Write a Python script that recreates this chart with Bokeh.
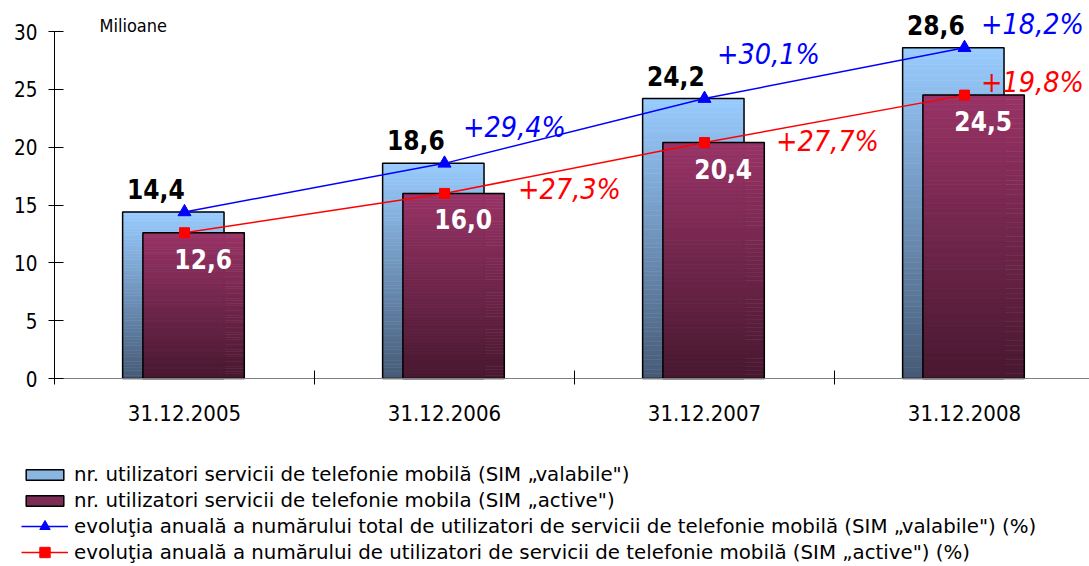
import numpy as np
from bokeh.plotting import figure
from bokeh.models import FixedTicker, Legend, LegendItem, Label, ColumnDataSource
from bokeh.core.properties import value
from bokeh.embed import file_html
from bokeh.resources import INLINE

# ---------------- data ----------------
categories = ["31.12.2005", "31.12.2006", "31.12.2007", "31.12.2008"]
sim_valabile = [14.4, 18.6, 24.2, 28.6]
sim_active = [12.6, 16.0, 20.4, 24.5]
growth_valabile = ["", "+29,4%", "+30,1%", "+18,2%"]
growth_active = ["", "+27,3%", "+27,7%", "+19,8%"]
y_ticks = [0, 5, 10, 15, 20, 25, 30]
unit_label = "Milioane"
legend_labels = [
    "nr. utilizatori servicii de telefonie mobilă (SIM „valabile\")",
    "nr. utilizatori servicii de telefonie mobila (SIM „active\")",
    "evoluţia anuală a numărului total de utilizatori de servicii de telefonie mobilă (SIM „valabile\") (%)",
    "evoluţia anuală a numărului de utilizatori de servicii de telefonie mobilă (SIM „active\") (%)",
]

# ---------------- layout / style ----------------
FONT = "DejaVu Sans Condensed"
LEG_FONT = "DejaVu Sans"
W, H = 1089, 566
CAT_PX = 260.0          # px per category
X0_PX, Y0_PX, Y30_PX = 54, 378, 31
PX_PER_UNIT = (Y0_PX - Y30_PX) / 30.0
BLUE_TOP, BLUE_BOT = (153, 204, 255), (70, 90, 118)
MAR_TOP, MAR_BOT = (153, 51, 102), (72, 24, 48)
BAR_W = 0.39
BLUE_SHIFT, MAR_SHIFT = -0.043, 0.035
gv_dx = [0, 70, 64, 68]
gv_dy = [0, -36, -44, -23]
ga_dx = [0, 125, 123, 68]
ga_dy = [0, -4, -1, -13]

x_start = -0.5 - X0_PX / CAT_PX
x_end = x_start + W / CAT_PX
y_end = 30 + Y30_PX / PX_PER_UNIT
y_start = -(H - Y0_PX) / PX_PER_UNIT

xs = np.arange(len(categories))

p = figure(width=W, height=H, x_range=(x_start, x_end), y_range=(y_start, y_end),
           output_backend="svg", toolbar_location=None, min_border=0)
p.outline_line_color = None
p.xgrid.visible = False
p.ygrid.visible = False
p.background_fill_color = "white"


def lerp(c1, c2, t):
    return "#%02x%02x%02x" % tuple(int(round(a + (b - a) * t)) for a, b in zip(c1, c2))


def gradient_bars(vals, shift, top_c, bot_c, n=60):
    L, R, B, T, C = [], [], [], [], []
    for i, v in enumerate(vals):
        for k in range(n):
            L.append(xs[i] + shift - BAR_W / 2)
            R.append(xs[i] + shift + BAR_W / 2)
            B.append(v * k / n)
            T.append(v * (k + 1) / n)
            C.append(lerp(bot_c, top_c, (k + 0.5) / n))
    src = ColumnDataSource(dict(l=L, r=R, b=B, t=T, c=C))
    p.quad(left="l", right="r", bottom="b", top="t", fill_color="c",
           line_color="c", line_width=0.6, source=src)
    p.quad(left=xs + shift - BAR_W / 2, right=xs + shift + BAR_W / 2,
           bottom=0, top=vals, fill_alpha=0, line_color="black", line_width=1.5)


gradient_bars(sim_valabile, BLUE_SHIFT, BLUE_TOP, BLUE_BOT)
gradient_bars(sim_active, MAR_SHIFT, MAR_TOP, MAR_BOT)

lv = p.line(xs, sim_valabile, line_color="#0000ff", line_width=1.5)
mv = p.scatter(xs, sim_valabile, marker="triangle", size=13, color="#0000ff")
la = p.line(xs, sim_active, line_color="#ff0000", line_width=1.5)
ma = p.scatter(xs, sim_active, marker="square", size=10, color="#ff0000")

fmt = lambda v: ("%.1f" % v).replace(".", ",")

p.text(x=xs - 0.11, y=sim_valabile, text=[fmt(v) for v in sim_valabile],
       text_font=value(FONT), text_font_style="bold", text_font_size="26px",
       text_color="black", text_align="center", text_baseline="alphabetic",
       y_offset=-23)
p.text(x=xs + 0.072, y=sim_active, text=[fmt(v) for v in sim_active],
       text_font=value(FONT), text_font_style="bold", text_font_size="26px",
       text_color="white", text_align="center", text_baseline="alphabetic",
       y_offset=26)

p.text(x=xs, y=sim_valabile, text=growth_valabile, x_offset=gv_dx, y_offset=gv_dy,
       text_font=value(FONT), text_font_style="italic", text_font_size="28.5px",
       text_color="#0000ff", text_align="center", text_baseline="alphabetic")
p.text(x=xs, y=sim_active, text=growth_active, x_offset=ga_dx, y_offset=ga_dy,
       text_font=value(FONT), text_font_style="italic", text_font_size="28.5px",
       text_color="#ff0000", text_align="center", text_baseline="alphabetic")

p.add_layout(Label(x=-0.327, y=30, text=unit_label, text_font=FONT,
                   text_font_size="18px", text_color="black",
                   text_baseline="alphabetic", y_offset=6))

# axes at fixed data positions
p.yaxis.fixed_location = -0.5
p.yaxis.bounds = (0, 30)
p.yaxis.ticker = FixedTicker(ticks=y_ticks)
p.yaxis.major_tick_out = 6
p.yaxis.major_tick_in = 9
p.yaxis.minor_tick_out = 0
p.yaxis.minor_tick_in = 0
p.yaxis.major_label_standoff = 11
p.yaxis.major_label_text_font = FONT
p.yaxis.major_label_text_font_size = "20.5px"
p.yaxis.major_label_text_color = "black"
p.yaxis.axis_line_color = "black"
p.yaxis.major_tick_line_color = "black"

p.xaxis.fixed_location = 0
p.xaxis.bounds = (-0.5, 3.5)
p.xaxis.ticker = FixedTicker(ticks=list(xs), minor_ticks=[-0.5, 0.5, 1.5, 2.5, 3.5])
p.xaxis.major_label_overrides = {int(i): c for i, c in zip(xs, categories)}
p.xaxis.major_tick_out = 0
p.xaxis.major_tick_in = 0
p.xaxis.minor_tick_out = 6
p.xaxis.minor_tick_in = 8
p.xaxis.minor_tick_line_color = "black"
p.xaxis.axis_line_color = "#808080"
p.xaxis.major_label_standoff = 20
p.xaxis.major_label_text_font = FONT
p.xaxis.major_label_text_font_size = "22px"
p.xaxis.major_label_text_color = "black"

# legend proxies (placed outside the visible ranges)
src_proxy = ColumnDataSource(dict(l=[-100], r=[-99], b=[-100], t=[-99]))
pb = p.quad(left="l", right="r", bottom="b", top="t", source=src_proxy,
            fill_color="#8ab6e2", line_color="black", line_width=1.5)
pm = p.quad(left="l", right="r", bottom="b", top="t", source=src_proxy,
            fill_color="#7a2c55", line_color="black", line_width=1.5)

common = dict(orientation="vertical", glyph_width=47, label_height=26,
              label_standoff=6, spacing=0, padding=0, margin=0,
              label_text_font=LEG_FONT, label_text_font_size="19.8px",
              label_text_color="black", border_line_alpha=0,
              background_fill_alpha=0)
legend_bars = Legend(items=[
    LegendItem(label=legend_labels[0], renderers=[pb]),
    LegendItem(label=legend_labels[1], renderers=[pm]),
], location=(21, 53), glyph_height=13, **common)
legend_lines = Legend(items=[
    LegendItem(label=legend_labels[2], renderers=[lv, mv]),
    LegendItem(label=legend_labels[3], renderers=[la, ma]),
], location=(21, 1), glyph_height=26, **common)
p.add_layout(legend_bars, "center")
p.add_layout(legend_lines, "center")

open("out.html", "w").write(file_html(p, INLINE))
